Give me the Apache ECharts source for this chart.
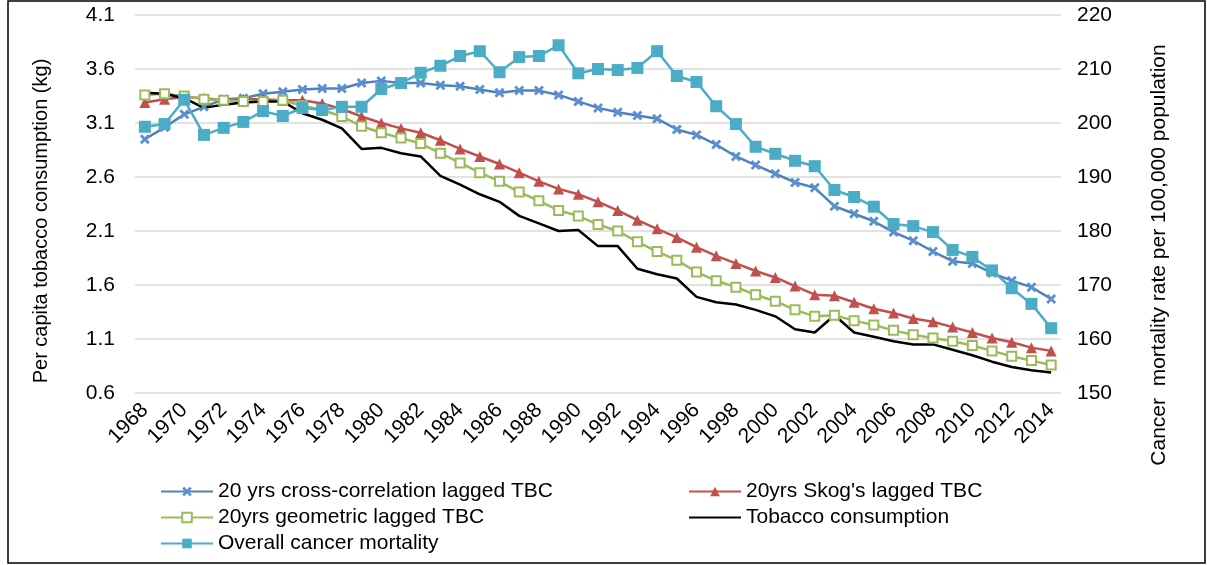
<!DOCTYPE html>
<html>
<head>
<meta charset="utf-8">
<script src="https://cdn.jsdelivr.net/npm/echarts@6/dist/echarts.min.js"></script>
<style>
  html, body { margin: 0; padding: 0; background: #fff; }
  #chart { width: 1207px; height: 565px; }
</style>
</head>
<body>
<div id="chart"></div>
<script>
// Years on the category axis
const years = [
  1968, 1969, 1970, 1971, 1972, 1973, 1974, 1975, 1976, 1977,
  1978, 1979, 1980, 1981, 1982, 1983, 1984, 1985, 1986, 1987,
  1988, 1989, 1990, 1991, 1992, 1993, 1994, 1995, 1996, 1997,
  1998, 1999, 2000, 2001, 2002, 2003, 2004, 2005, 2006, 2007,
  2008, 2009, 2010, 2011, 2012, 2013, 2014
];

// Per capita tobacco consumption series (kg), left axis
const crossCorrLagged = [
  2.95, 3.06, 3.18, 3.25, 3.32, 3.33, 3.37, 3.39, 3.41, 3.42,
  3.42, 3.47, 3.49, 3.47, 3.47, 3.45, 3.44, 3.41, 3.38, 3.40,
  3.40, 3.36, 3.30, 3.24, 3.20, 3.17, 3.14, 3.04, 2.99, 2.90,
  2.79, 2.71, 2.63, 2.55, 2.50, 2.33, 2.26, 2.19, 2.09, 2.01,
  1.91, 1.82, 1.80, 1.71, 1.64, 1.58, 1.47
];
const skogLagged = [
  3.29, 3.32, 3.34, 3.33, 3.31, 3.32, 3.32, 3.31, 3.31, 3.28,
  3.23, 3.16, 3.10, 3.05, 3.01, 2.94, 2.86, 2.79, 2.72, 2.64,
  2.56, 2.49, 2.44, 2.37, 2.29, 2.20, 2.12, 2.04, 1.95, 1.87,
  1.80, 1.73, 1.67, 1.59, 1.51, 1.50, 1.44, 1.38, 1.34, 1.29,
  1.26, 1.21, 1.16, 1.11, 1.07, 1.02, 0.99
];
const geometricLagged = [
  3.36, 3.37, 3.35, 3.32, 3.31, 3.30, 3.30, 3.31, 3.26, 3.22,
  3.16, 3.07, 3.01, 2.96, 2.91, 2.82, 2.73, 2.64, 2.56, 2.46,
  2.38, 2.29, 2.24, 2.16, 2.10, 2.00, 1.91, 1.83, 1.72, 1.64,
  1.58, 1.51, 1.45, 1.37, 1.31, 1.32, 1.27, 1.23, 1.18, 1.14,
  1.11, 1.08, 1.04, 0.99, 0.94, 0.90, 0.86
];
const tobaccoConsumption = [
  3.38, 3.37, 3.33, 3.24, 3.27, 3.29, 3.30, 3.30, 3.19, 3.13,
  3.05, 2.86, 2.87, 2.82, 2.79, 2.61, 2.53, 2.44, 2.37, 2.24,
  2.17, 2.10, 2.11, 1.96, 1.96, 1.75, 1.70, 1.66, 1.49, 1.44,
  1.42, 1.37, 1.31, 1.19, 1.16, 1.32, 1.16, 1.12, 1.08, 1.05,
  1.05, 1.00, 0.95, 0.89, 0.84, 0.81, 0.79
];

// Overall cancer mortality per 100,000, right axis
const cancerMortality = [
  199.3, 199.8, 204.3, 197.8, 199.1, 200.2, 202.2, 201.3, 202.8, 202.4,
  203.0, 203.0, 206.3, 207.4, 209.3, 210.6, 212.4, 213.3, 209.4, 212.2,
  212.4, 214.4, 209.2, 210.0, 209.8, 210.2, 213.3, 208.7, 207.6, 203.1,
  199.8, 195.6, 194.3, 193.0, 192.0, 187.6, 186.3, 184.5, 181.3, 180.9,
  179.8, 176.5, 175.2, 172.7, 169.4, 166.5, 162.0
];

// Axis ranges
const leftAxisRange = { min: 0.6, max: 4.1, step: 0.5 };
const rightAxisRange = { min: 150, max: 220, step: 10 };

const names = {
  cross: '20 yrs cross-correlation lagged TBC',
  skog: "20yrs Skog's lagged TBC",
  geom: '20yrs geometric lagged TBC',
  tobacco: 'Tobacco consumption',
  mortality: 'Overall cancer mortality'
};

const FONT = '"Liberation Sans", Arial, sans-serif';
const FS = 21;
const crossSymbol = 'path://M2,0L5,3L8,0L10,2L7,5L10,8L8,10L5,7L2,10L0,8L3,5L0,2Z';

const chart = echarts.init(document.getElementById('chart'), null, { renderer: 'canvas' });

const legendText = { fontFamily: FONT, fontSize: FS, color: '#000' };

chart.setOption({
  backgroundColor: '#ffffff',
  animation: false,
  textStyle: { fontFamily: FONT, color: '#000' },
  grid: { left: 135, right: 146, top: 15, bottom: 172, containLabel: false },
  graphic: [{
    type: 'rect',
    shape: { x: 8, y: 1, width: 1197, height: 562 },
    style: { fill: 'none', stroke: '#000', lineWidth: 1.5 },
    silent: true
  }],
  legend: [{
    left: 155, top: 476, orient: 'vertical',
    itemWidth: 52, itemHeight: 12, itemGap: 5,
    textStyle: legendText,
    data: [names.cross, names.geom, names.mortality]
  }, {
    left: 683, top: 476, orient: 'vertical',
    itemWidth: 52, itemHeight: 12, itemGap: 5,
    textStyle: legendText,
    data: [names.skog, { name: names.tobacco, itemStyle: { opacity: 0 } }]
  }],
  xAxis: {
    type: 'category',
    data: years,
    boundaryGap: true,
    axisLine: { show: false },
    axisTick: { show: false },
    axisLabel: {
      interval: 1, rotate: 45, margin: 14,
      fontFamily: FONT, fontSize: FS, color: '#000'
    }
  },
  yAxis: [{
    type: 'value',
    min: leftAxisRange.min, max: leftAxisRange.max, interval: leftAxisRange.step,
    name: 'Per capita tobacco consumption (kg)',
    nameLocation: 'middle', nameGap: 84, nameRotate: 90,
    nameTextStyle: { fontFamily: FONT, fontSize: 20, color: '#000', padding: [0, 34, 0, 0] },
    axisLine: { show: false },
    axisTick: { show: false },
    axisLabel: {
      margin: 20, fontFamily: FONT, fontSize: FS, color: '#000',
      formatter: v => v.toFixed(1)
    },
    splitLine: { lineStyle: { color: '#D9D9D9', width: 1.5 } }
  }, {
    type: 'value',
    position: 'right',
    min: rightAxisRange.min, max: rightAxisRange.max, interval: rightAxisRange.step,
    name: 'Cancer  mortality rate per 100,000 population',
    nameLocation: 'middle', nameGap: 88, nameRotate: 90,
    nameTextStyle: { fontFamily: FONT, fontSize: FS, color: '#000', padding: [0, 102, 0, 0] },
    axisLine: { show: false },
    axisTick: { show: false },
    axisLabel: { margin: 16, fontFamily: FONT, fontSize: FS, color: '#000' },
    splitLine: { show: false }
  }],
  series: [{
    name: names.cross,
    type: 'line',
    yAxisIndex: 0,
    data: crossCorrLagged,
    symbol: crossSymbol, symbolSize: 10,
    lineStyle: { color: '#4F81BD', width: 2.5 },
    itemStyle: { color: '#5B8FD0' }
  }, {
    name: names.skog,
    type: 'line',
    yAxisIndex: 0,
    data: skogLagged,
    symbol: 'triangle', symbolSize: 11,
    lineStyle: { color: '#C0504D', width: 2.5 },
    itemStyle: { color: '#C0504D' }
  }, {
    name: names.geom,
    type: 'line',
    yAxisIndex: 0,
    data: geometricLagged,
    symbol: 'rect', symbolSize: 9,
    lineStyle: { color: '#9BBB59', width: 2.5 },
    itemStyle: { color: '#ffffff', borderColor: '#9BBB59', borderWidth: 2 }
  }, {
    name: names.tobacco,
    type: 'line',
    yAxisIndex: 0,
    data: tobaccoConsumption,
    symbol: 'none',
    lineStyle: { color: '#000000', width: 2.5 },
    itemStyle: { color: '#000000' }
  }, {
    name: names.mortality,
    type: 'line',
    yAxisIndex: 1,
    data: cancerMortality,
    symbol: 'rect', symbolSize: 12,
    lineStyle: { color: '#4BACC6', width: 2.5 },
    itemStyle: { color: '#4BACC6' }
  }]
});
</script>
</body>
</html>
